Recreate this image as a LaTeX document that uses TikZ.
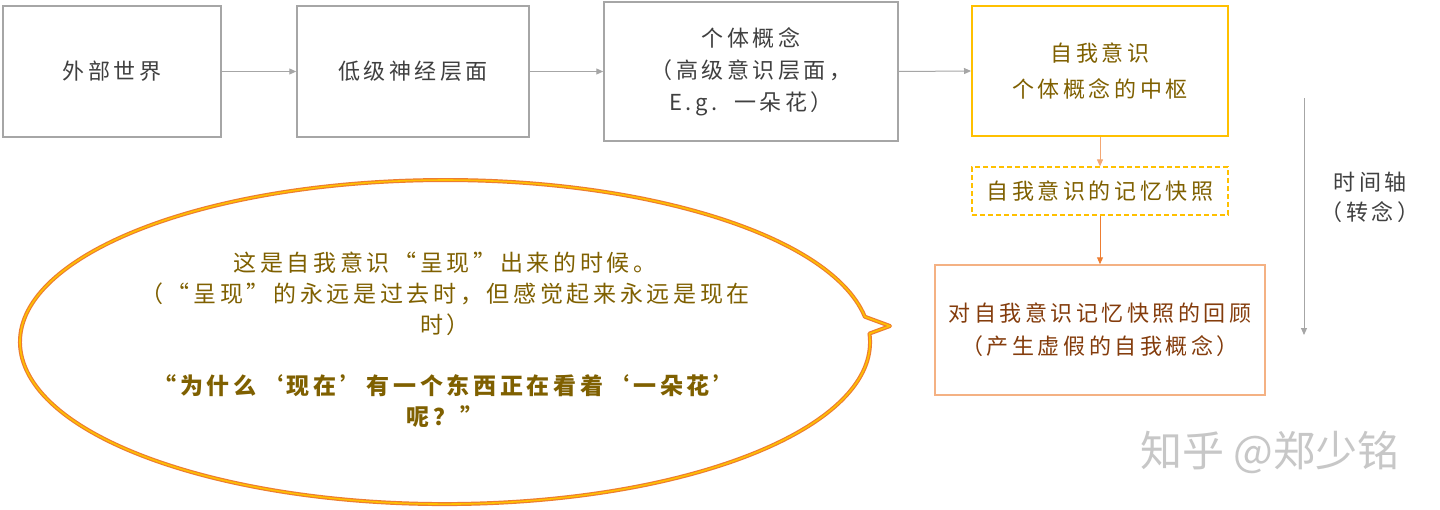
\documentclass[tikz,border=0pt]{standalone}
\usepackage{fontspec}
\setmainfont{Noto Sans CJK SC}[LetterSpace=16]
\newfontfamily\wmfont{Noto Sans CJK SC}
\usetikzlibrary{arrows.meta}
\definecolor{gbord}{HTML}{A6A6A6}
\definecolor{gtext}{HTML}{404040}
\definecolor{gold}{HTML}{FFC000}
\definecolor{olive}{HTML}{7F6000}
\definecolor{orng}{HTML}{ED7D31}
\definecolor{lorng}{HTML}{F4B183}
\definecolor{brwn}{HTML}{843C0C}
\tikzset{
  box/.style={draw=gbord, line width=1.5pt, text=gtext, align=center, inner sep=0pt,
    font=\fontsize{22}{32}\selectfont},
  goldbox/.style={draw=gold, line width=2pt, text=olive, align=center, inner sep=0pt,
    font=\fontsize{22}{36}\selectfont},
  dashbox/.style={draw=gold, dashed, dash pattern=on 5pt off 3pt, line width=1.2pt, text=olive, align=center, inner sep=0pt,
    font=\fontsize{22}{32}\selectfont},
  orbox/.style={draw=lorng, line width=1.5pt, text=brwn, align=center, inner sep=0pt,
    font=\fontsize{22}{33}\selectfont},
  garrow/.style={draw=gbord, line width=1pt, -{Triangle[length=7pt,width=6pt]}},
  oarrow/.style={line width=1pt, -{Triangle[length=7pt,width=6pt]}},
}
\begin{document}
\begin{tikzpicture}[x=1pt,y=1pt]
\useasboundingbox (0,0) rectangle (1440,-509);
\fill[white] (0,0) rectangle (1440,-509);

% top row
\node[box, minimum width=218, minimum height=131] (b1) at (112,-71.5) {外部世界};
\node[box, minimum width=232, minimum height=131] (b2) at (413,-71.5) {低级神经层面};
\node[box, minimum width=294, minimum height=139] (b3) at (751,-71.5) {个体概念\\（高级意识层面，\\E.g.\ \ 一朵花）};
\node[goldbox, minimum width=256, minimum height=130] (b4) at (1100,-71) {自我意识\\个体概念的中枢};
\node[dashbox, minimum width=256, minimum height=48] (b5) at (1100,-191) {自我意识的记忆快照};
\node[orbox, minimum width=330, minimum height=130] (b6) at (1100,-330) {对自我意识记忆快照的回顾\\（产生虚假的自我概念）};

\draw[garrow] (b1.east) -- (b2.west);
\draw[garrow] (b2.east) -- (b3.west);
\draw[garrow] (b3.east) -- (b4.west);
\draw[oarrow, draw=lorng!80!orng] (b4.south) -- (b5.north);
\draw[oarrow, draw=orng] (b5.south) -- (b6.north);

% time axis
\coordinate (t1) at (1304,-98);
\coordinate (t2) at (1304,-335);
\draw[garrow] (t1) -- (t2);
\node[text=gtext, align=center, font=\fontsize{22}{30}\selectfont] (tl) at (1370,-197) {时间轴\\（转念）};

% speech bubble
\path[draw=orng, line width=4pt, line join=round]
  (445+419.8,-342+25.3) arc[start angle=9, end angle=363, x radius=425, y radius=162]
  -- (890,-326) -- cycle;
\path[draw=gold, line width=1.6pt, line join=round]
  (445+419.8,-342+25.3) arc[start angle=9, end angle=363, x radius=425, y radius=162]
  -- (890,-326) -- cycle;
\node[text=olive, align=center, font=\fontsize{23}{31}\selectfont] (bt) at (445,-340)
  {这是自我意识“呈现”出来的时候。\\（“呈现”的永远是过去时，但感觉起来永远是现在\\时）\\[30pt]
   {\bfseries “为什么‘现在’有一个东西正在看着‘一朵花’}\\{\bfseries 呢？”}};

% watermark
\node[text=black!22, font=\wmfont\fontsize{42}{44}\selectfont] (wm) at (1270,-452) {知乎 @郑少铭};
\end{tikzpicture}
\end{document}
